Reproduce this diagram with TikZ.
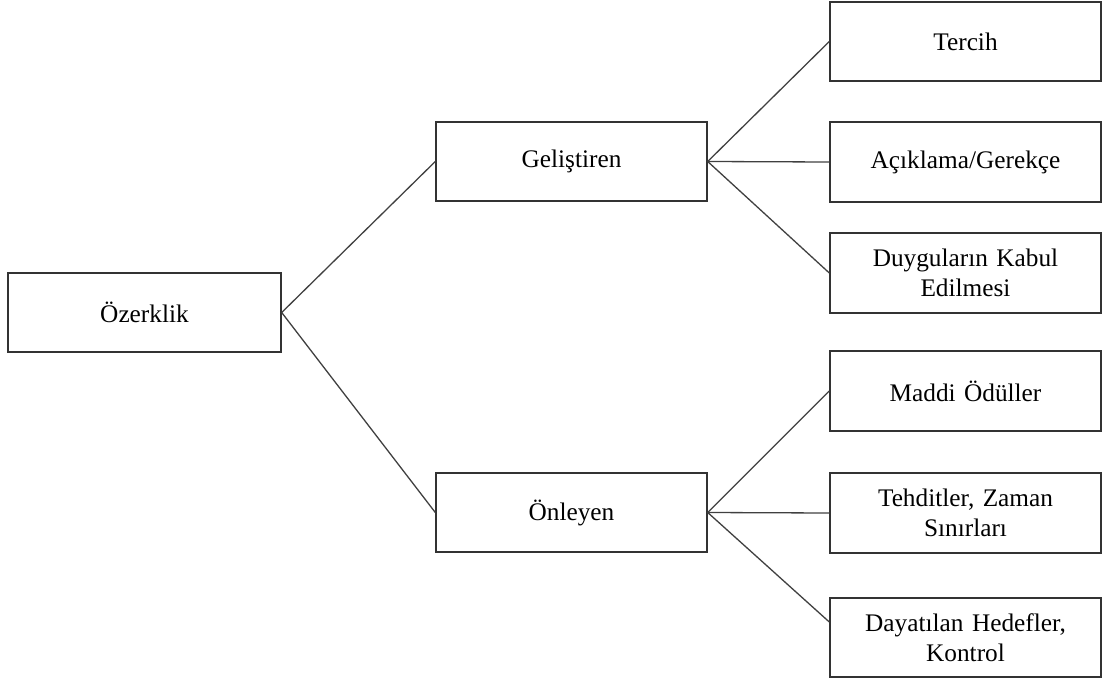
\documentclass[tikz,border=0pt]{standalone}
\usepackage{fontspec}
\setmainfont{Liberation Serif}
\begin{document}
\begin{tikzpicture}[x=1pt,y=-1pt,
  box/.style={draw=black!80, line width=1.4pt, fill=white, minimum width=271pt, minimum height=79pt,
    inner sep=0pt, align=center, text width=255pt, font=\fontsize{25.3}{30}\selectfont},
  conn/.style={draw=black!75, line width=1.3pt}]
\useasboundingbox (0,0) rectangle (1102,682);
\node[box, minimum width=273pt] (oz) at (144.5,312.5) {Özerklik};
\node[box] (gel) at (571.5,161.5) {Geliştiren};
\node[box] (onl) at (571.5,512.5) {Önleyen};
\node[box] (ter) at (965.5,41.5) {Tercih};
\node[box, minimum height=80pt] (aci) at (965.5,162) {Açıklama/Gerekçe};
\node[box, minimum height=80pt] (duy) at (965.5,273) {Duyguların Kabul\\Edilmesi};
\node[box, minimum height=80pt] (mad) at (965.5,391) {Maddi Ödüller};
\node[box, minimum height=80pt] (teh) at (965.5,513) {Tehditler, Zaman\\Sınırları};
\node[box] (day) at (965.5,637.5) {Dayatılan Hedefler,\\Kontrol};
\coordinate (dayin) at ([yshift=15.5pt]day.west);
\draw[conn] (oz.east) -- (gel.west);
\draw[conn] (oz.east) -- (onl.west);
\draw[conn] (gel.east) -- (ter.west);
\draw[conn] (gel.east) -- (aci.west);
\draw[conn] (gel.east) -- (duy.west);
\draw[conn] (onl.east) -- (mad.west);
\draw[conn] (onl.east) -- (teh.west);
\draw[conn] (onl.east) -- (dayin);
\end{tikzpicture}
\end{document}
